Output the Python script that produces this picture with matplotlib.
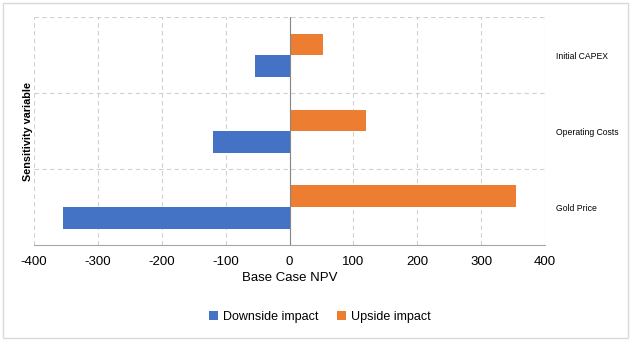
import matplotlib.pyplot as plt
from matplotlib.patches import Rectangle

# sensitivity data (NPV change)
variables = ['Gold Price', 'Operating Costs', 'Initial CAPEX']
downside = [-355, -120, -54]
upside = [355, 120, 52]
xticks = [-400, -300, -200, -100, 0, 100, 200, 300, 400]

blue = '#4472C4'
orange = '#ED7D31'
grid_col = '#D0D0D0'

plt.rcParams['font.family'] = ['Liberation Sans', 'DejaVu Sans']

fig = plt.figure(figsize=(6.31, 3.43), dpi=100)
ax = fig.add_axes([0.0539, 0.2857, 0.81, 0.6647])

pos = range(len(variables))
h = 0.283
ax.barh([p - h / 2 for p in pos], downside, height=h, color=blue, label='Downside impact', zorder=3)
ax.barh([p + h / 2 for p in pos], upside, height=h, color=orange, label='Upside impact', zorder=3)

ax.set_xlim(-400, 400)
ax.set_ylim(-0.5, len(variables) - 0.5)
ax.set_xticks(xticks)
ax.set_xticklabels([str(t) for t in xticks], fontsize=9.5, color='#000000')
ax.tick_params(axis='x', length=0, pad=8)

# category boundaries as dashed gridlines
ax.set_yticks([p + 0.5 for p in pos], minor=True)
ax.grid(True, axis='x', which='major', linestyle=(0, (4, 3)), color=grid_col, linewidth=0.8, zorder=0)
ax.grid(True, axis='y', which='minor', linestyle=(0, (4, 3)), color=grid_col, linewidth=0.8, zorder=0)
ax.tick_params(axis='y', which='minor', length=0)

ax.yaxis.tick_right()
ax.set_yticks(list(pos))
ax.set_yticklabels(variables, fontsize=6.2)
ax.tick_params(axis='y', which='major', length=0, pad=8)

for s in ['top', 'right', 'left']:
    ax.spines[s].set_visible(False)
ax.spines['bottom'].set_color('#A6A6A6')
ax.spines['bottom'].set_linewidth(0.8)
ax.axvline(0, color='#868686', linewidth=0.8, zorder=4)

ax.set_xlabel('Base Case NPV', fontsize=9.5, labelpad=3)
ax.yaxis.set_label_position('left')
ax.set_ylabel('Sensitivity variable', fontsize=7.8, fontweight='bold', labelpad=1)

fig.legend(loc='center', bbox_to_anchor=(0.507, 0.076), ncol=2, frameon=False,
           fontsize=9, handlelength=0.7, handleheight=0.7, handletextpad=0.4, columnspacing=1.5)

fig.patches.append(Rectangle((0.005, 0.015), 0.99, 0.975, transform=fig.transFigure,
                             fill=False, edgecolor='#D9D9D9', linewidth=1))

fig.savefig('out.png', dpi=100)
